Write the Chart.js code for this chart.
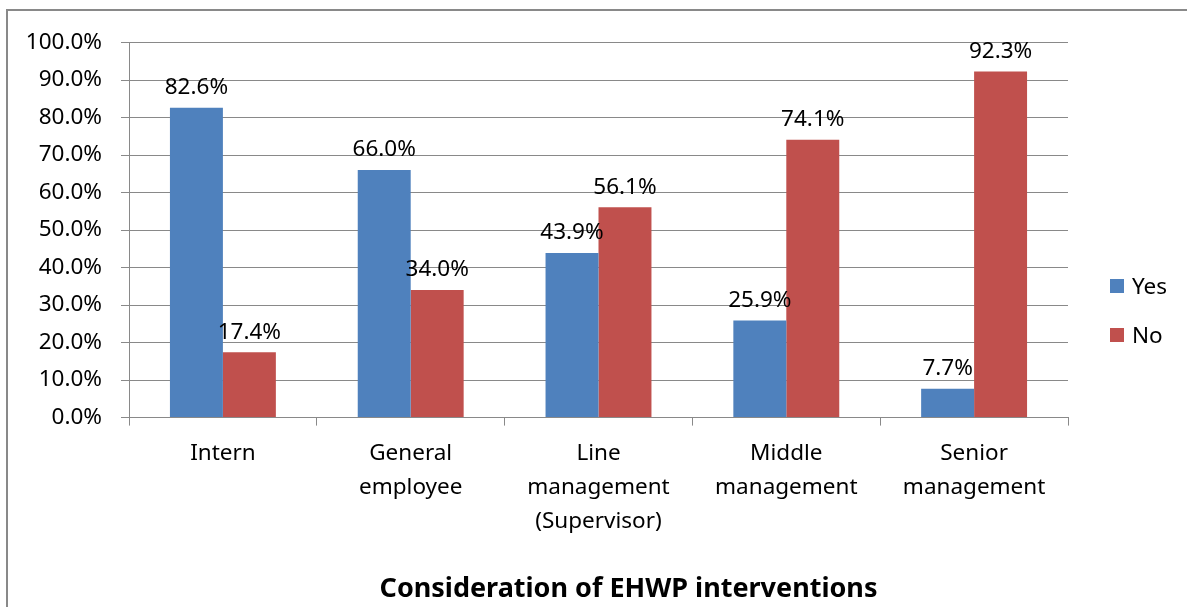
<!DOCTYPE html>
<html>
<head>
<meta charset="utf-8">
<script src="https://cdn.jsdelivr.net/npm/chart.js@4"></script>
<style>
  body { margin: 0; background: #fff; overflow: hidden; width: 1187px; height: 607px; position: relative; }
  #frame { position: absolute; left: 6px; top: 9px; width: 1250px; height: 620px; border: 2px solid #898989; box-sizing: border-box; }
  #grafico { position: absolute; left: 8px; top: 10px; }
  #leyenda { position: absolute; left: 1110px; top: 261px; font-family: "Noto Sans", sans-serif; font-size: 22.5px; color: #000; }
  #leyenda div { height: 49px; display: flex; align-items: center; }
  #leyenda span.caja { width: 14px; height: 14px; margin-right: 8px; display: inline-block; }
</style>
</head>
<body>
<div id="frame"></div>
<canvas id="grafico" width="1241" height="610"></canvas>
<div id="leyenda"></div>
<script>
const categorias = ['Intern', ['General', 'employee'], ['Line', 'management', '(Supervisor)'], ['Middle', 'management'], ['Senior', 'management']];
const valoresSi = [82.6, 66.0, 43.9, 25.9, 7.7];
const valoresNo = [17.4, 34.0, 56.1, 74.1, 92.3];
const series = ['Yes', 'No'];
const colores = ['#4F81BD', '#C0504D'];
const titulo = 'Consideration of EHWP interventions';

const fuente = '"Noto Sans", sans-serif';
const gris = '#898989';

// etiquetas de valor encima de cada barra
const etiquetas = {
    id: 'etiquetas',
    afterDatasetsDraw(chart) {
    const ctx = chart.ctx;
    ctx.save();
    ctx.font = '22.5px ' + fuente;
    ctx.fillStyle = '#000';
    ctx.textAlign = 'center';
    ctx.textBaseline = 'middle';
    chart.data.datasets.forEach((ds, i) => {
        chart.getDatasetMeta(i).data.forEach((bar, j) => {
        ctx.fillText(ds.data[j].toFixed(1) + '%', bar.x, bar.y - 20);
        });
    });
    ctx.restore();
    }
};

const ctx = document.getElementById('grafico').getContext('2d');

const chart = new Chart(ctx, {
    type: 'bar',
    data: {
    labels: categorias,
    datasets: [
        { label: series[0], data: valoresSi, backgroundColor: colores[0] },
        { label: series[1], data: valoresNo, backgroundColor: colores[1] }
    ]
    },
    options: {
    responsive: false,
    animation: false,
    categoryPercentage: 0.564,
    barPercentage: 1,
    layout: { padding: { left: 0, right: 0, top: 30, bottom: 0 } },
    plugins: {
        legend: { display: false },
        tooltip: { enabled: false },
        title: {
        display: true,
        text: titulo,
        position: 'bottom',
        color: '#000',
        font: { family: fuente, size: 27, weight: 'bold', lineHeight: 1.2 },
        padding: { top: 16, bottom: 14 }
        }
    },
    scales: {
        x: {
        afterFit: (s) => { s.height = 140; },
        border: { color: gris, width: 1 },
        grid: { drawOnChartArea: false, drawTicks: true, tickLength: 8, color: gris },
        ticks: {
            color: '#000',
            padding: 11,
            maxRotation: 0,
            autoSkip: false,
            font: { family: fuente, size: 22.5, lineHeight: 1.51 }
        }
        },
        y: {
        min: 0,
        max: 100,
        afterFit: (s) => { s.width = 121; },
        border: { color: gris, width: 1 },
        grid: { color: gris, tickLength: 8 },
        ticks: {
            stepSize: 10,
            color: '#000',
            padding: 19,
            font: { family: fuente, size: 22.5 },
            callback: (v) => v.toFixed(1) + '%'
        }
        },
        // eje vacío a la derecha: deja sitio para la leyenda
        hueco: {
        position: 'right',
        min: 0,
        max: 1,
        afterFit: (s) => { s.width = 181; },
        border: { display: false },
        grid: { display: false },
        ticks: { display: false }
        }
    }
    },
    plugins: [etiquetas]
});

const leyenda = document.getElementById('leyenda');
chart.data.datasets.forEach(ds => {
    const fila = document.createElement('div');
    const caja = document.createElement('span');
    caja.className = 'caja';
    caja.style.background = ds.backgroundColor;
    fila.appendChild(caja);
    fila.appendChild(document.createTextNode(ds.label));
    leyenda.appendChild(fila);
});
</script>
</body>
</html>
